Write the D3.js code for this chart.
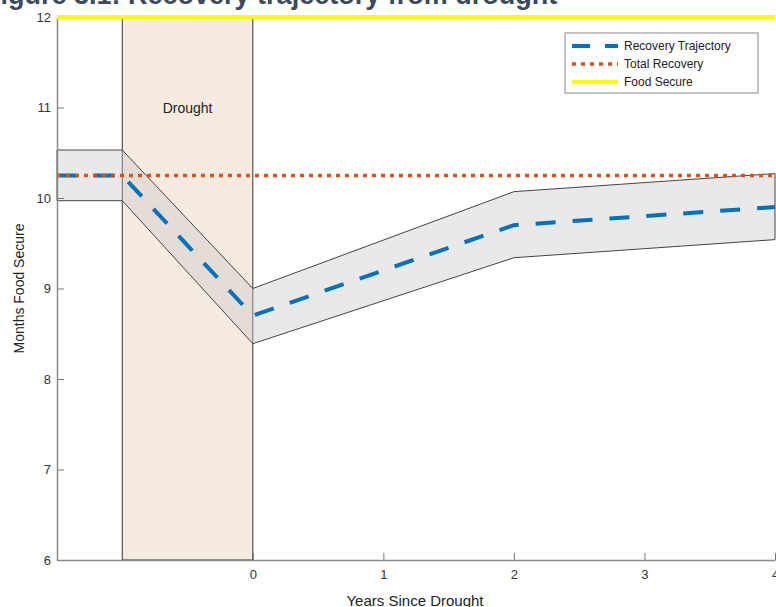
<!DOCTYPE html>
<html>
<head>
<meta charset="utf-8">
<script src="https://cdn.jsdelivr.net/npm/d3@7"></script>
<style>
  body { margin: 0; background: #fff; }
  svg { display: block; font-family: "Liberation Sans", Arial, sans-serif; }
</style>
</head>
<body>
<svg id="chart"></svg>
<script>
// data
const years = [-1.5, -1, 0, 2, 4];
const trajectory = [10.25, 10.25, 8.70, 9.70, 9.90];
const upperBound = [10.53, 10.53, 9.00, 10.07, 10.27];
const lowerBound = [9.97, 9.97, 8.39, 9.34, 9.54];
const totalRecovery = 10.25;
const foodSecure = 12;
const droughtPeriod = [-1, 0];
const xTicks = [0, 1, 2, 3, 4];
const yTicks = [6, 7, 8, 9, 10, 11, 12];
const legendLabels = ["Recovery Trajectory", "Total Recovery", "Food Secure"];

const width = 776, height = 607;
const svg = d3.select("#chart").attr("width", width).attr("height", height);

const x = d3.scaleLinear().domain([-1.5, 4]).range([57, 775]);
const y = d3.scaleLinear().domain([6, 12]).range([560, 17]);

// title, cut off at the top of the picture
svg.append("text")
  .attr("x", -16)
  .attr("y", 4)
  .attr("fill", "#3c4a5c")
  .attr("font-size", 27)
  .attr("font-weight", "bold")
  .text("Figure 3.1: Recovery trajectory from drought");

// drought period
svg.append("rect")
  .attr("x", x(droughtPeriod[0]))
  .attr("y", y(12))
  .attr("width", x(droughtPeriod[1]) - x(droughtPeriod[0]))
  .attr("height", y(6) - y(12))
  .attr("fill", "#f5ebe0")
  .attr("stroke", "#333")
  .attr("stroke-width", 1);

svg.append("text")
  .attr("x", x(-0.5))
  .attr("y", y(11) + 5)
  .attr("text-anchor", "middle")
  .attr("font-size", 14)
  .attr("fill", "#222")
  .text("Drought");

// uncertainty band
const rows = years.map((yr, i) => ({ yr, lo: lowerBound[i], hi: upperBound[i], m: trajectory[i] }));
const area = d3.area()
  .x(d => x(d.yr))
  .y0(d => y(d.lo))
  .y1(d => y(d.hi));

svg.append("path")
  .datum(rows)
  .attr("d", area)
  .attr("fill", "#c8c8c8")
  .attr("fill-opacity", 0.4)
  .attr("stroke", "#444")
  .attr("stroke-width", 1);

// mean trajectory
const line = d3.line().x(d => x(d.yr)).y(d => y(d.m));
svg.append("path")
  .datum(rows)
  .attr("d", line)
  .attr("fill", "none")
  .attr("stroke", "#0072bd")
  .attr("stroke-width", 4)
  .attr("stroke-dasharray", "20,17");

// total recovery level
svg.append("line")
  .attr("x1", x(-1.5)).attr("x2", x(4))
  .attr("y1", y(totalRecovery)).attr("y2", y(totalRecovery))
  .attr("stroke", "#d95319")
  .attr("stroke-width", 3.5)
  .attr("stroke-dasharray", "4,5");

// axes
const yAxis = svg.append("g")
  .attr("transform", `translate(${x(-1.5)},0)`)
  .call(d3.axisLeft(y).tickValues(yTicks).tickFormat(d3.format("d"))
    .tickSize(-7).tickPadding(6).tickSizeOuter(0));
const xAxis = svg.append("g")
  .attr("transform", `translate(0,${y(6)})`)
  .call(d3.axisBottom(x).tickValues(xTicks).tickFormat(d3.format("d"))
    .tickSize(-7).tickPadding(10).tickSizeOuter(0));

[yAxis, xAxis].forEach(g => {
  g.select(".domain").attr("stroke", "#8a8a8a").attr("stroke-width", 1.5);
  g.selectAll(".tick line").attr("stroke", "#777");
  g.selectAll(".tick text")
    .attr("fill", "#333")
    .attr("font-size", 13)
    .attr("font-family", "'Liberation Sans', Arial, sans-serif");
});

// food secure level, on top
svg.append("line")
  .attr("x1", x(-1.5)).attr("x2", x(4))
  .attr("y1", y(foodSecure)).attr("y2", y(foodSecure))
  .attr("stroke", "#ffff00")
  .attr("stroke-width", 4);

// axis titles
svg.append("text")
  .attr("transform", `translate(24,${(y(6) + y(12)) / 2}) rotate(-90)`)
  .attr("text-anchor", "middle")
  .attr("font-size", 14)
  .attr("fill", "#222")
  .text("Months Food Secure");

svg.append("text")
  .attr("x", 415)
  .attr("y", 606)
  .attr("text-anchor", "middle")
  .attr("font-size", 15)
  .attr("fill", "#222")
  .text("Years Since Drought");

// legend
const legend = svg.append("g").attr("transform", "translate(565,33)");
legend.append("rect")
  .attr("width", 193).attr("height", 60)
  .attr("fill", "#fff")
  .attr("stroke", "#888")
  .attr("stroke-width", 1);

const legendStyles = [
  { color: "#0072bd", w: 4, dash: "18,15" },
  { color: "#d95319", w: 3.5, dash: "4,5" },
  { color: "#ffff00", w: 4, dash: null }
];
legendLabels.forEach((lab, i) => {
  const ly = 13 + i * 18;
  legend.append("line")
    .attr("x1", 7).attr("x2", 53)
    .attr("y1", ly).attr("y2", ly)
    .attr("stroke", legendStyles[i].color)
    .attr("stroke-width", legendStyles[i].w)
    .attr("stroke-dasharray", legendStyles[i].dash);
  legend.append("text")
    .attr("x", 59)
    .attr("y", ly + 4)
    .attr("font-size", 12)
    .attr("fill", "#222")
    .text(lab);
});
</script>
</body>
</html>
